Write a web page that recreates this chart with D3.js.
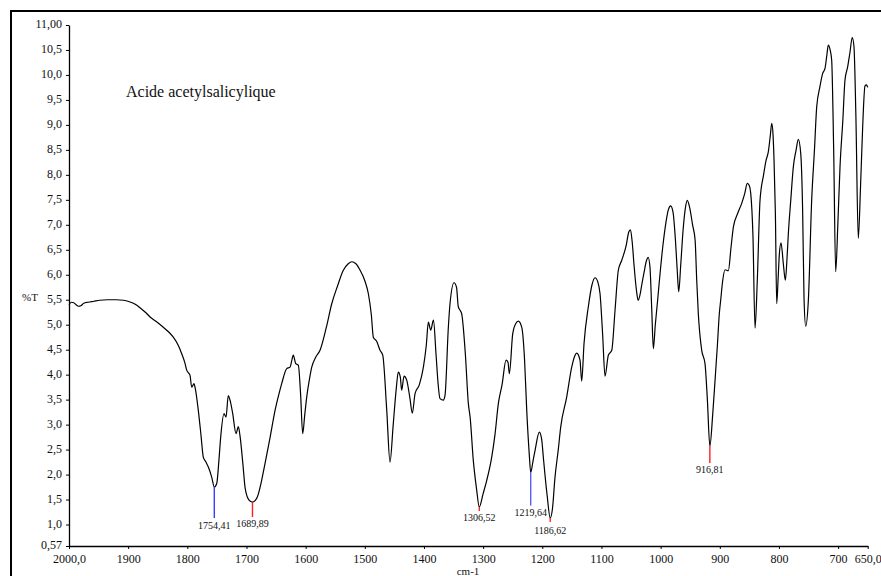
<!DOCTYPE html>
<html>
<head>
  <meta charset="utf-8">
  <title>Acide acetylsalicylique IR</title>
  <style>
    body { margin: 0; background: #fff; }
    svg text { font-family: "Liberation Serif", "Times New Roman", serif; fill: #111; }
  </style>
</head>
<body>
  <svg width="881" height="576"></svg>
  <script src="https://cdn.jsdelivr.net/npm/d3@7"></script>
  <script>
  // 1. data
  var wavenumbers = [2000,1996,1992,1988,1984,1980,1975,1968,1958,1948,1935,1920,1908,1898,1888,1878,1870,1863,1852,1840.6,1832,1823.7,1815,1809.5,1804,1801,1795.5,1792.6,1788.7,1787,1781.4,1777,1773,1768.5,1764.5,1758.8,1754.4,1750.3,1746.5,1743.6,1738,1734.6,1730.8,1727,1723.3,1717.7,1713.8,1711,1706,1702.5,1698.6,1694,1689.9,1685.5,1681.7,1675,1668.7,1660,1651.8,1645,1640.5,1632,1626.4,1623.5,1620.9,1616.8,1612.4,1608.5,1605,1601.5,1598.2,1593,1589.7,1583,1575.7,1565,1555.9,1546,1536.3,1528,1522,1515,1508,1500,1494,1489,1485.6,1480,1474.3,1469.7,1463,1457.4,1452,1447,1443.4,1440,1437.7,1433.7,1429.2,1424,1419.7,1415.1,1407.8,1401,1396,1392.6,1388.6,1384,1379.7,1376,1372.9,1367.3,1364.4,1358.8,1356,1349.2,1345,1342,1339,1336.3,1330,1325,1322,1316.6,1311,1306.5,1300,1294,1285.5,1280,1274.3,1268,1261.3,1258,1255.7,1250,1245,1240.5,1234.8,1230,1226.3,1222,1219.6,1216,1212.3,1205,1201,1198.3,1192,1186.6,1183,1178.5,1173,1168.9,1158.8,1150.3,1145,1141.8,1136.3,1133.4,1129.5,1122.2,1116,1110.9,1106,1102.4,1098,1094,1088.4,1082.6,1077,1071.5,1065.7,1058,1054,1051,1048,1045,1041,1038,1034,1032,1028,1024,1021,1018,1015,1012.3,1009,1005,1001,996,991,987,983,979,975,972,969.4,966,962,958,955,951,946,941.7,939,936.3,930.6,925,921,916.8,912,908,904,900.8,898.5,895,891.2,885.6,881,877,870,863,858,853.5,850,847.7,844,840.4,836.6,832,826,821.8,818,814.5,812.2,810,808.3,806,803.8,801.5,799.3,796.5,792.6,789.2,786.5,784.1,780,775.7,771,767.2,763.2,760,757.6,754.8,750.3,744.7,740,736.2,731,726.1,722.2,719,716.6,713.5,710.9,707.5,704.1,700.5,696.8,692,688.4,683.9,680,676.1,673.2,670,665.9,662,658.5,654.6,652,650];
  var transmittance = [5.40,5.45,5.44,5.40,5.37,5.38,5.43,5.45,5.47,5.49,5.50,5.50,5.49,5.46,5.41,5.32,5.24,5.155,5.06,4.95,4.86,4.75,4.58,4.42,4.23,4.09,3.99,3.75,3.82,3.75,3.28,2.80,2.35,2.25,2.15,1.95,1.75,1.82,2.3,2.75,3.22,3.15,3.58,3.45,3.22,2.82,2.96,2.78,2.2,1.75,1.55,1.47,1.45,1.48,1.55,1.85,2.22,2.75,3.28,3.62,3.82,4.12,4.15,4.28,4.39,4.22,4.19,3.6,2.82,3.2,3.55,3.95,4.15,4.35,4.49,4.95,5.42,5.78,6.09,6.22,6.26,6.22,6.09,5.88,5.62,5.2,4.75,4.67,4.49,4.39,3.3,2.25,3.0,3.7,4.05,3.95,3.69,3.97,3.89,3.55,3.23,3.62,3.80,4.15,4.6,5.05,4.89,5.09,4.42,3.8,3.52,3.49,3.59,4.95,5.42,5.84,5.75,5.36,5.29,5.22,4.4,3.42,3.15,2.28,1.7,1.35,1.62,1.88,2.35,2.8,3.42,3.8,4.29,4.25,4.02,4.82,5.02,5.07,4.95,4.3,3.28,2.4,2.04,2.25,2.48,2.85,2.7,2.35,1.6,1.13,1.3,1.95,2.5,2.95,3.55,4.15,4.38,4.43,4.29,3.87,4.62,5.36,5.8,5.94,5.85,5.62,4.8,3.97,4.39,4.49,5.3,6.09,6.29,6.6,6.85,6.9,6.65,6.2,5.7,5.49,5.65,5.79,6.05,6.28,6.35,6.15,5.3,4.52,5.0,5.5,6.02,6.6,7.05,7.3,7.38,7.25,6.7,6.1,5.66,6.2,6.9,7.35,7.49,7.35,7.0,6.69,5.89,5.22,4.49,4.22,3.5,2.57,3.2,3.89,4.6,5.22,5.49,5.89,6.10,6.08,6.55,6.96,7.22,7.43,7.62,7.83,7.78,7.63,6.8,4.93,5.89,7.49,8.0,8.29,8.46,8.8,9.03,8.8,8.29,7.2,5.42,5.9,6.42,6.64,6.22,5.89,6.3,6.83,7.5,8.16,8.5,8.71,8.43,7.3,5.52,4.97,5.49,7.49,8.5,9.36,9.75,10.03,10.13,10.4,10.60,10.5,10.30,8.5,6.06,7.0,8.16,9.1,9.90,10.16,10.45,10.75,10.57,9.2,6.73,7.8,8.96,9.78,9.8,9.75];

  var xTicks = [2000,1900,1800,1700,1600,1500,1400,1300,1200,1100,1000,900,800,700,650];
  var xTickLabels = ["2000,0","1900","1800","1700","1600","1500","1400","1300","1200","1100","1000","900","800","700","650,0"];
  var yTicks = [0.57,1,1.5,2,2.5,3,3.5,4,4.5,5,5.5,6,6.5,7,7.5,8,8.5,9,9.5,10,10.5,11];
  var yTickLabels = ["0,57","1,0","1,5","2,0","2,5","3,0","3,5","4,0","4,5","5,0","5,5","6,0","6,5","7,0","7,5","8,0","8,5","9,0","9,5","10,0","10,5","11,00"];

  var peakWn = [1754.41,1689.89,1306.52,1219.64,1186.62,916.81];
  var peakT = [1.75,1.45,1.35,2.04,1.13,2.57];
  var peakLabels = ["1754,41","1689,89","1306,52","1219,64","1186,62","916,81"];
  var peakColors = ["#3b3bff","#ff2020","#ff2020","#5a5aff","#ff2020","#ff2020"];

  // pixel layout for the peak markers: [line length, label baseline offset]
  var peakLayout = [[31,42],[15,25],[4,14],[33,43],[4,16],[17,27]];

  // 2. scales and frame
  var svg = d3.select("svg");
  var x = d3.scaleLinear().domain([2000, 650]).range([69, 867.7]);
  var y = d3.scaleLinear().domain([0.57, 11]).range([546, 25]);

  svg.append("rect")
    .attr("x", 11).attr("y", 11)
    .attr("width", 880).attr("height", 580)
    .attr("fill", "none")
    .attr("stroke", "black")
    .attr("stroke-width", 2);

  // 3. axes
  var xAxis = d3.axisBottom(x)
    .tickValues(xTicks)
    .tickSize(3).tickSizeOuter(0).tickPadding(5)
    .tickFormat(function(d, i) { return xTickLabels[i]; });
  var yAxis = d3.axisLeft(y)
    .tickValues(yTicks)
    .tickSize(3).tickSizeOuter(0).tickPadding(4)
    .tickFormat(function(d, i) { return yTickLabels[i]; });

  var gx = svg.append("g").attr("transform", "translate(0,546)").call(xAxis);
  var gy = svg.append("g").attr("transform", "translate(69,0)").call(yAxis);
  [gx, gy].forEach(function(g) {
    g.attr("font-family", "Liberation Serif").attr("font-size", 12);
    g.select(".domain").attr("stroke", "black").attr("stroke-width", 1.3);
    g.selectAll(".tick line").attr("stroke", "black");
    g.selectAll("text").attr("fill", "#111");
  });
  gy.selectAll("text").attr("dy", "0.22em");

  svg.append("text").attr("x", 22).attr("y", 301)
    .style("font-size", "11px").text("%T");
  svg.append("text").attr("x", 468).attr("y", 575)
    .attr("text-anchor", "middle")
    .style("font-size", "11px").text("cm-1");
  svg.append("text").attr("x", 126).attr("y", 97)
    .style("font-size", "16px").text("Acide acetylsalicylique");

  // 4. spectrum
  var points = wavenumbers.map(function(w, i) { return [w, transmittance[i]]; });
  var line = d3.line()
    .x(function(d) { return x(d[0]); })
    .y(function(d) { return y(d[1]); })
    .curve(d3.curveMonotoneX);

  svg.append("path")
    .datum(points)
    .attr("d", line)
    .attr("fill", "none")
    .attr("stroke", "black")
    .attr("stroke-width", 1.2)
    .attr("stroke-linejoin", "round");

  // 5. peak markers
  var peaks = svg.selectAll(".peak")
    .data(peakWn)
    .enter()
    .append("g")
    .attr("class", "peak");

  peaks.append("line")
    .attr("x1", function(d) { return x(d); })
    .attr("x2", function(d) { return x(d); })
    .attr("y1", function(d, i) { return y(peakT[i]); })
    .attr("y2", function(d, i) { return y(peakT[i]) + peakLayout[i][0]; })
    .attr("stroke", function(d, i) { return peakColors[i]; })
    .attr("stroke-width", 1.4);

  peaks.append("text")
    .attr("x", function(d) { return x(d); })
    .attr("y", function(d, i) { return y(peakT[i]) + peakLayout[i][1]; })
    .attr("text-anchor", "middle")
    .style("font-size", "10px")
    .text(function(d, i) { return peakLabels[i]; });
  </script>
</body>
</html>
